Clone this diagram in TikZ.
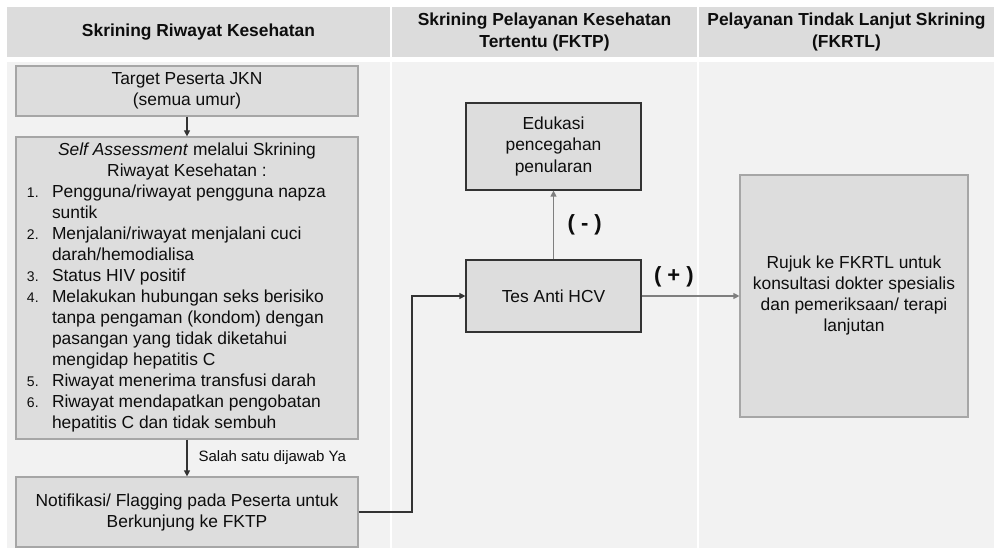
\documentclass[tikz,border=0pt]{standalone}
\usepackage{fontspec}
\setmainfont{Liberation Sans}
\usetikzlibrary{arrows.meta}

\definecolor{hdrfill}{HTML}{DCDCDC}
\definecolor{bodyfill}{HTML}{F2F2F2}
\definecolor{boxfill}{HTML}{DDDDDD}
\definecolor{softedge}{HTML}{A6A6A6}
\definecolor{darkedge}{HTML}{333333}
\definecolor{txt}{HTML}{0D0D0D}
\definecolor{greyline}{HTML}{7F7F7F}

\newcommand\bodysize{\fontsize{17.4}{21}\selectfont}
% one numbered entry of the self-assessment list, with a hanging indent
\newcommand\saitem[2]{\par\noindent\hangindent=36pt\hangafter=1%
  \hbox to 36pt{\hspace{11pt}{\fontsize{14}{21}\selectfont #1}\hfil}#2}

\begin{document}
\begin{tikzpicture}[x=1pt,y=-1pt,
  hdr/.style={fill=hdrfill, inner sep=0pt, align=center, text=txt,
    font=\bfseries\fontsize{17.4}{22}\selectfont},
  lbox/.style={draw=softedge, fill=boxfill, line width=1.2pt, inner sep=0pt,
    align=center, text=txt, font=\bodysize},
  dbox/.style={lbox, draw=darkedge},
  link/.style={draw=darkedge, line width=1.2pt,
    -{Triangle[length=6pt,width=6pt]}},
  glink/.style={link, draw=greyline, -{Triangle[length=6pt,width=6pt]}},
  note/.style={inner sep=0pt, text=txt},
]
\useasboundingbox (0,0) rectangle (994,548);
\fill[white] (0,0) rectangle (994,548);

% column bodies
\fill[bodyfill] (7,62) rectangle (390,548);
\fill[bodyfill] (392,62) rectangle (697,548);
\fill[bodyfill] (699,62) rectangle (994,548);

% column headers
\node[hdr, minimum width=383pt, minimum height=50pt] (h1) at (198.5,32)
  {Skrining Riwayat Kesehatan};
\node[hdr, minimum width=305pt, minimum height=50pt] (h2) at (544.5,32)
  {Skrining Pelayanan Kesehatan\\Tertentu (FKTP)};
\node[hdr, minimum width=295pt, minimum height=50pt] (h3) at (846.5,32)
  {Pelayanan Tindak Lanjut Skrining\\(FKRTL)};

% boxes of the first column
\node[lbox, minimum width=342pt, minimum height=50pt] (tgt) at (187,91)
  {Target Peserta JKN\\(semua umur)};
\node[lbox, text width=342pt, minimum height=302pt, align=none] (sa) at (187,288)
  {{\centering\textit{Self Assessment} melalui Skrining\\Riwayat Kesehatan :\par}
   \raggedright
   \saitem{1.}{Pengguna/riwayat pengguna napza\newline suntik}
   \saitem{2.}{Menjalani/riwayat menjalani cuci\newline darah/hemodialisa}
   \saitem{3.}{Status HIV positif}
   \saitem{4.}{Melakukan hubungan seks berisiko\newline tanpa pengaman (kondom) dengan\newline pasangan yang tidak diketahui\newline mengidap hepatitis C}
   \saitem{5.}{Riwayat menerima transfusi darah}
   \saitem{6.}{Riwayat mendapatkan pengobatan\newline hepatitis C dan tidak sembuh}\par};
\node[lbox, minimum width=342pt, minimum height=70pt] (ntf) at (187,512)
  {Notifikasi/ Flagging pada Peserta untuk\\Berkunjung ke FKTP};

% boxes of the second column
\node[dbox, minimum width=175pt, minimum height=87pt,
  font=\fontsize{17.4}{21.5}\selectfont] (edu) at (553.5,146.5)
  {Edukasi\\pencegahan\\penularan};
\node[dbox, minimum width=175pt, minimum height=72pt] (tes) at (553.5,296)
  {Tes Anti HCV};

% box of the third column
\node[lbox, minimum width=228pt, minimum height=242pt] (rjk) at (854,296)
  {Rujuk ke FKRTL untuk\\konsultasi dokter spesialis\\dan pemeriksaan/ terapi\\lanjutan};

% connectors
\draw[link] (tgt) -- (sa);
\draw[link] (sa) -- node[note, anchor=west, xshift=11pt,
  font=\fontsize{15}{18}\selectfont] {Salah satu dijawab Ya} (ntf);
\coordinate (bend) at (412,296);
\draw[link] (ntf.east) -| (bend) -- (tes.west);
\draw[glink] (tes) -- node[note, anchor=west, xshift=13.5pt,
  font=\bfseries\fontsize{22}{24}\selectfont] {( - )} (edu);
\draw[glink] (tes) -- node[note, pos=0.33, yshift=19pt,
  font=\bfseries\fontsize{22}{24}\selectfont] {( + )} (rjk);
\end{tikzpicture}
\end{document}
